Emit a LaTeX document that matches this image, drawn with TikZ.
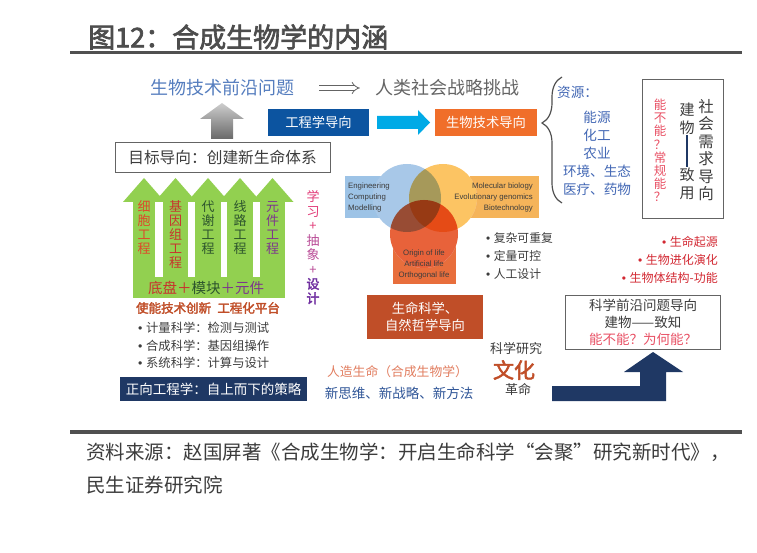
\documentclass[tikz,border=0pt]{standalone}
\usepackage{fontspec}
\setmainfont{Noto Sans CJK SC}[AutoFakeBold=2.5]
\newfontfamily\latinfont{Liberation Sans}
\usetikzlibrary{decorations.pathreplacing,arrows.meta}
\newcommand{\fsz}[2]{\fontsize{#1}{#2}\selectfont}
\newcommand{\dotmark}{{\latinfont •}\hspace{0.3em}}
\definecolor{figcolor0000}{RGB}{77,77,77}
\definecolor{figcolor0001}{RGB}{80,80,80}
\definecolor{figcolor0002}{RGB}{85,125,190}
\definecolor{figcolor0003}{RGB}{100,100,100}
\definecolor{figcolor0004}{RGB}{12,84,160}
\definecolor{figcolor0005}{RGB}{0,170,230}
\definecolor{figcolor0006}{RGB}{240,110,42}
\definecolor{figcolor0007}{RGB}{66,103,180}
\definecolor{figcolor0008}{RGB}{232,80,100}
\definecolor{figcolor0009}{RGB}{60,60,60}
\definecolor{figcolor0010}{RGB}{146,208,80}
\definecolor{figcolor0011}{RGB}{222,72,42}
\definecolor{figcolor0012}{RGB}{200,50,45}
\definecolor{figcolor0013}{RGB}{45,85,45}
\definecolor{figcolor0014}{RGB}{125,55,140}
\definecolor{figcolor0015}{RGB}{225,60,120}
\definecolor{figcolor0016}{RGB}{185,75,150}
\definecolor{figcolor0017}{RGB}{112,48,160}
\definecolor{figcolor0018}{RGB}{192,78,40}
\definecolor{figcolor0019}{RGB}{31,56,100}
\definecolor{figcolor0020}{RGB}{168,200,232}
\definecolor{figcolor0021}{RGB}{252,196,99}
\definecolor{figcolor0022}{RGB}{232,98,58}
\definecolor{figcolor0023}{RGB}{157,195,230}
\definecolor{figcolor0024}{RGB}{245,180,90}
\definecolor{figcolor0025}{RGB}{232,110,60}
\definecolor{figcolor0026}{RGB}{210,40,50}
\definecolor{figcolor0027}{RGB}{225,125,95}
\definecolor{figcolor0028}{RGB}{47,85,151}
\definecolor{figcolor0029}{RGB}{205,205,205}
\definecolor{figcolor0030}{RGB}{105,105,105}
\begin{document}
\begin{tikzpicture}[yscale=-1
,tstyle/.style={inner sep=0pt,anchor=center}
,vstyle/.style={inner sep=0pt,align=center}
,bstyle/.style={inner sep=0pt,minimum width=#1}
,vennline/.style={line width=1pt,fill=white}
,vennfill/.style={blend mode=multiply}
]
\useasboundingbox (0pt,0pt) rectangle (757pt,553pt);
\node (title) at (88pt,37pt)[tstyle,anchor=west,color=figcolor0000,font=\fsz{27}{27}\bfseries]{图12：合成生物学的内涵};
\draw[color=figcolor0001,line width=3pt] (70pt,53pt) -- (742pt,53pt);
\node (qianyan) at (222pt,88pt)[tstyle,color=figcolor0002,font=\fsz{18}{18}]{生物技术前沿问题};
\node (tiaozhan) at (447pt,88pt)[tstyle,color=figcolor0003,font=\fsz{18}{18}]{人类社会战略挑战};
\draw[color=figcolor0003,line width=0.8pt,double,double distance=3.5pt,-{Implies},shorten <=25pt,shorten >=15pt] (qianyan) -- (tiaozhan);
\shade[top color=figcolor0029,bottom color=figcolor0030] (222pt,103pt) -- (244pt,119pt) -- (233pt,119pt) -- (233pt,139pt) -- (211pt,139pt) -- (211pt,119pt) -- (200pt,119pt) -- cycle;
\node (mubiao) at (222.5pt,157.5pt)[bstyle=215pt,minimum height=30pt,draw=figcolor0003,line width=1pt,text=figcolor0009,font=\fsz{15.7}{16}]{目标导向：创建新生命体系};
\node (gcdx) at (318.5pt,122.5pt)[bstyle=101pt,minimum height=27pt,fill=figcolor0004,text=white,font=\fsz{13.3}{14}]{工程学导向};
\fill[color=figcolor0005] (377pt,116pt) -- (418pt,116pt) -- (418pt,110pt) -- (430pt,122.5pt) -- (418pt,135pt) -- (418pt,129pt) -- (377pt,129pt) -- cycle;
\node (swdx) at (486pt,122.5pt)[bstyle=102pt,minimum height=27pt,fill=figcolor0006,text=white,font=\fsz{13.3}{14}]{生物技术导向};
\draw[color=figcolor0001,line width=1.2pt,decorate,decoration={brace,amplitude=20pt,aspect=0.635}] (562pt,203pt) -- (562pt,77pt);
\node (ziyuan) at (557pt,92pt)[tstyle,anchor=west,color=figcolor0007,font=\fsz{13.6}{14}]{资源：};
\node (nengyuan) at (597pt,117pt)[tstyle,color=figcolor0007,font=\fsz{13.6}{14}]{能源};
\node (huagong) at (597pt,135pt)[tstyle,color=figcolor0007,font=\fsz{13.6}{14}]{化工};
\node (nongye) at (597pt,153pt)[tstyle,color=figcolor0007,font=\fsz{13.6}{14}]{农业};
\node (huanjing) at (597pt,171pt)[tstyle,color=figcolor0007,font=\fsz{13.6}{14}]{环境、生态};
\node (yiliao) at (597pt,189pt)[tstyle,color=figcolor0007,font=\fsz{13.6}{14}]{医疗、药物};
\node (shehuibox) at (682.5pt,149.5pt)[bstyle=81pt,minimum height=139pt,draw=figcolor0003,line width=1pt]{};
\node (nengbuneng) at (660pt,150.5pt)[vstyle,color=figcolor0008,font=\fsz{12.5}{13.2}]{能\\不\\能\\？\\常\\规\\能\\？};
\node (jianwu) at (687pt,119pt)[vstyle,color=figcolor0009,font=\fsz{15}{18}]{建\\物};
\node (zhiyong) at (687pt,183.5pt)[vstyle,color=figcolor0009,font=\fsz{15}{18}]{致\\用};
\draw[color=figcolor0019,line width=1.2pt] (jianwu.south) -- (zhiyong.north);
\node (shehui) at (706pt,150pt)[vstyle,color=figcolor0009,font=\fsz{15.5}{17.5}]{社\\会\\需\\求\\导\\向};
\foreach \x in {144,175.5,208,240,272.5}
  \fill[color=figcolor0010,xshift=\x pt] (-21pt,202pt) -- (0pt,178pt) -- (21pt,202pt) -- cycle;
\fill[color=figcolor0010] (133pt,201pt) rectangle (285pt,298pt);
\foreach \a/\b in {155/163,188/195,221/227,253/260}
  \fill[white] (\a pt,202pt) rectangle (\b pt,277pt);
\node (xibao) at (144pt,228pt)[vstyle,color=figcolor0011,font=\fsz{13}{14}]{细\\胞\\工\\程};
\node (jiyinzu) at (175.5pt,235pt)[vstyle,color=figcolor0012,font=\fsz{13}{14}]{基\\因\\组\\工\\程};
\node (daixie) at (208pt,228pt)[vstyle,color=figcolor0013,font=\fsz{13}{14}]{代\\谢\\工\\程};
\node (xianlu) at (240pt,228pt)[vstyle,color=figcolor0013,font=\fsz{13}{14}]{线\\路\\工\\程};
\node (yuanjian) at (272.5pt,228pt)[vstyle,color=figcolor0014,font=\fsz{13}{14}]{元\\件\\工\\程};
\node (dipan) at (206pt,288pt)[tstyle,font=\fsz{14.5}{15}]{\textcolor{figcolor0012}{底盘＋}\textcolor{figcolor0013}{模块}\textcolor{figcolor0014}{＋元件}};
\node (xuexi) at (313pt,247.5pt)[vstyle,font=\fsz{13}{14.5}]{\textcolor{figcolor0015}{学}\\\textcolor{figcolor0015}{习}\\\textcolor{figcolor0015}{+}\\\textcolor{figcolor0016}{抽}\\\textcolor{figcolor0016}{象}\\\textcolor{figcolor0016}{+}\\\textcolor{figcolor0017}{\textbf{设}}\\\textcolor{figcolor0017}{\textbf{计}}};
\node (shineng) at (208pt,308pt)[tstyle,color=figcolor0018,font=\fsz{12.5}{13}\bfseries]{使能技术创新\hspace{0.5em}工程化平台};
\node (jiliang) at (138pt,328pt)[tstyle,anchor=west,color=figcolor0009,font=\fsz{12.3}{13}]{\dotmark 计量科学：检测与测试};
\node (hecheng) at (138pt,345.5pt)[tstyle,anchor=west,color=figcolor0009,font=\fsz{12.3}{13}]{\dotmark 合成科学：基因组操作};
\node (xitong) at (138pt,363pt)[tstyle,anchor=west,color=figcolor0009,font=\fsz{12.3}{13}]{\dotmark 系统科学：计算与设计};
\node (zhengxiang) at (213.5pt,389pt)[bstyle=187pt,minimum height=24pt,fill=figcolor0019,text=white,font=\fsz{13.5}{14}]{正向工程学：自上而下的策略};
\draw[vennline,color=figcolor0023] (345pt,177pt) rectangle (390pt,218pt);
\draw[vennline,color=figcolor0024] (470pt,177pt) rectangle (538pt,218pt);
\draw[vennline,color=figcolor0025] (393pt,245pt) rectangle (455pt,283pt);
\fill[white] (407pt,198pt) circle (34pt);
\fill[white] (443pt,198pt) circle (34pt);
\fill[white] (424pt,234pt) circle (34pt);
\fill[vennfill,color=figcolor0020] (407pt,198pt) circle (34pt);
\fill[vennfill,color=figcolor0021] (443pt,198pt) circle (34pt);
\fill[vennfill,color=figcolor0022] (424pt,234pt) circle (34pt);
\node (engineering) at (348pt,197pt)[inner sep=0pt,anchor=west,align=left,color=figcolor0009,font=\latinfont\fsz{7.8}{11}]{Engineering\\Computing\\Modelling};
\node (molecular) at (533pt,197pt)[inner sep=0pt,anchor=east,align=right,color=figcolor0009,font=\latinfont\fsz{7.8}{11}]{Molecular biology\\Evolutionary genomics\\Biotechnology};
\node (origin) at (424pt,264pt)[vstyle,color=figcolor0009,font=\latinfont\fsz{7.8}{11}]{Origin of life\\Artificial life\\Orthogonal life};
\node (fuza) at (486pt,238pt)[tstyle,anchor=west,color=figcolor0009,font=\fsz{11.8}{12}]{\dotmark 复杂可重复};
\node (dingliang) at (486pt,256pt)[tstyle,anchor=west,color=figcolor0009,font=\fsz{11.8}{12}]{\dotmark 定量可控};
\node (rengong) at (486pt,274pt)[tstyle,anchor=west,color=figcolor0009,font=\fsz{11.8}{12}]{\dotmark 人工设计};
\node (qiyuan) at (718pt,242pt)[tstyle,anchor=east,color=figcolor0026,font=\fsz{12}{12}]{\dotmark 生命起源};
\node (jinhua) at (718pt,260pt)[tstyle,anchor=east,color=figcolor0026,font=\fsz{12}{12}]{\dotmark 生物进化演化};
\node (jiegou) at (718pt,278pt)[tstyle,anchor=east,color=figcolor0026,font=\fsz{12}{12}]{\dotmark 生物体结构-功能};
\node (kexue) at (643pt,322pt)[bstyle=155pt,minimum height=54pt,draw=figcolor0003,line width=1pt,align=center,text=figcolor0009,font=\fsz{13.5}{17}]{科学前沿问题导向\\建物——致知\\\textcolor{figcolor0008}{能不能？为何能？}};
\fill[color=figcolor0019] (552pt,386pt) -- (640pt,386pt) -- (640pt,372pt) -- (624pt,372pt) -- (653pt,352pt) -- (683pt,372pt) -- (666pt,372pt) -- (666pt,401pt) -- (552pt,401pt) -- cycle;
\node (shengming) at (425pt,317pt)[bstyle=116pt,minimum height=44pt,fill=figcolor0018,text=white,align=center,font=\fsz{13.3}{17}]{生命科学、\\自然哲学导向};
\node (renzao) at (397.5pt,372pt)[tstyle,color=figcolor0027,font=\fsz{12.8}{13}]{人造生命（合成生物学）};
\node (xinsiwei) at (399pt,393pt)[tstyle,color=figcolor0028,font=\fsz{13.5}{14}]{新思维、新战略、新方法};
\node (yanjiu) at (516pt,349pt)[tstyle,color=figcolor0009,font=\fsz{13}{13}]{科学研究};
\node (wenhua) at (514pt,370pt)[tstyle,color=figcolor0018,font=\fsz{21}{21}\bfseries]{文化};
\node (geming) at (518pt,389pt)[tstyle,color=figcolor0009,font=\fsz{13}{13}]{革命};
\draw[color=figcolor0001,line width=3.5pt] (70pt,432pt) -- (742pt,432pt);
\node (source) at (86pt,452pt)[tstyle,anchor=west,color=figcolor0009,font=\fsz{19.5}{20}]{资料来源：赵国屏著《合成生物学：开启生命科学“会聚”研究新时代》，};
\node (source2) at (86pt,485pt)[tstyle,anchor=west,color=figcolor0009,font=\fsz{19.5}{20}]{民生证券研究院};
\end{tikzpicture}
\end{document}
